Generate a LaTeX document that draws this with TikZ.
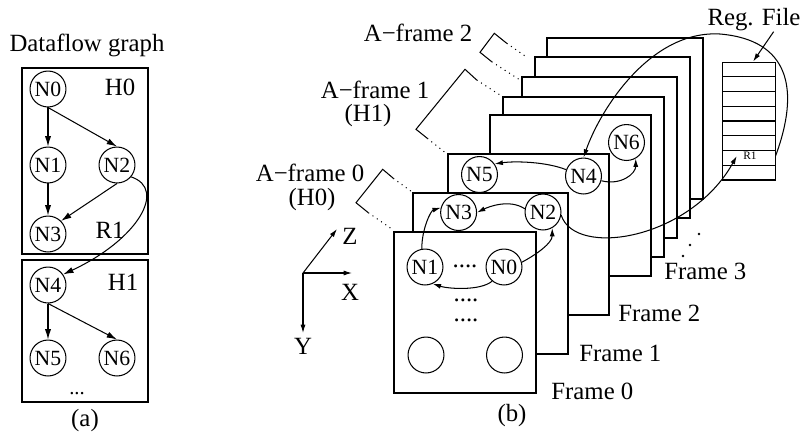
\documentclass[tikz,border=0pt]{standalone}
\usepackage{fontspec}
\setmainfont{Liberation Serif}
\usetikzlibrary{arrows.meta}

\begin{document}
\begin{tikzpicture}[x=0.484pt,y=-0.484pt,
  nd/.style={circle,draw,line width=.5pt,minimum size=17.4pt,inner sep=0pt,font=\fontsize{10.5}{11}\selectfont},
  lbl/.style={font=\fontsize{12}{13}\selectfont,inner sep=0pt},
  frm/.style={draw,fill=white,line width=.5pt},
  arr/.style={line width=.5pt,-{Latex[length=5pt,width=3pt]}},
  sarr/.style={line width=.5pt,-{Latex[length=4pt,width=2.4pt]}}]
\useasboundingbox (0,0) rectangle (801,434);

% (a) the dataflow graph
\node[lbl] (title) at (87,45) {Dataflow graph};
\draw[line width=.6pt] (22,68) rectangle (148,254);
\draw[line width=.6pt] (22,260) rectangle (148,402);
\node[lbl] (h0) at (120,87) {H0};
\node[lbl] (h1) at (123,282) {H1};
\node[lbl] (rr1) at (110,230) {R1};
\node[nd] (g0) at (48,89) {N0};
\node[nd] (g1) at (48,165) {N1};
\node[nd] (g2) at (117,165) {N2};
\node[nd] (g3) at (48,234) {N3};
\node[nd] (g4) at (48,285) {N4};
\node[nd] (g5) at (48,358) {N5};
\node[nd] (g6) at (117,358) {N6};
\node[font=\fontsize{10}{11}\selectfont] (gdots) at (77,394) {...};
\node[lbl] (capa) at (85,421) {(a)};
\draw[arr] (g0) -- (g1);
\draw[arr] (g0.south) -- (g2.north);
\draw[arr] (g1) -- (g3);
\draw[arr] (g2.south) -- (g3.45);
\draw[arr] (g2.-40) .. controls +(36,12) and +(75,-35) .. (g4.35);
\draw[arr] (g4) -- (g5);
\draw[arr] (g4.south) -- (g6.north);

% (b) the frames, back to front
\foreach \xa/\ya/\xb/\yb in {547/38/703/199,535/57/690/218,522/77/677/238,503/97/664/257,
    490/115/651/276,448/154/609/315,413/193/568/354,394/232/536/393}
  \draw[frm] (\xa,\ya) rectangle (\xb,\yb);
\node[lbl,anchor=west] (fl0) at (551,391) {Frame 0};
\node[lbl,anchor=west] (fl1) at (579,353) {Frame 1};
\node[lbl,anchor=west] (fl2) at (618,313) {Frame 2};
\node[lbl,anchor=west] (fl3) at (664,271) {Frame 3};
\foreach \x/\y in {683/256,690/245,699/234}
  \fill (\x,\y) circle (0.7pt);
\node[lbl] (capb) at (512,416) {(b)};

% A-frames
\node[lbl] (af2) at (418,33) {A−frame 2};
\node[lbl] (af1) at (375,90) {A−frame 1};
\node[lbl] (af1h) at (368,116) {(H1)};
\node[lbl] (af0) at (310,173) {A−frame 0};
\node[lbl] (af0h) at (312,200) {(H0)};
\draw[line width=.5pt] (506.7,43.3) -- (494.3,33.3) -- (480,52.3) -- (491.7,61.7);
\draw[line width=.5pt,dotted] (506.7,43.3) -- (527,57.3) (491.7,61.7) -- (520,80);
\draw[line width=.5pt] (476.7,80) -- (465,69.3) -- (416,129.3) -- (427.3,138.3);
\draw[line width=.5pt,dotted] (476.7,80) -- (500,95) (427.3,138.3) -- (447,154);
\draw[line width=.5pt] (393.3,178.3) -- (382.7,169.3) -- (356,202.7) -- (368.3,212.7);
\draw[line width=.5pt,dotted] (393.3,178.3) -- (411.7,191.7) (368.3,212.7) -- (393.3,230);

% axes
\coordinate (o) at (303,273);
\coordinate (xe) at (352,273);
\coordinate (ye) at (303,333);
\coordinate (ze) at (337,229);
\draw[sarr] (o) -- (xe);
\draw[sarr] (o) -- (ye);
\draw[sarr] (o) -- (ze);
\node[lbl] (lx) at (350,292) {X};
\node[lbl] (ly) at (303,346) {Y};
\node[lbl] (lz) at (350,236) {Z};

% nodes on the frames
\node[nd] (b0) at (504,267) {N0};
\node[nd] (b1) at (425,267) {N1};
\node[nd] (b2) at (543,212) {N2};
\node[nd] (b3) at (458.6,212.5) {N3};
\node[nd] (b4) at (583.5,176) {N4};
\node[nd] (b5) at (479.5,174.5) {N5};
\node[nd] (b6) at (626.5,142.5) {N6};
\node[nd] (e0) at (426,355) {};
\node[nd] (e1) at (504.5,355) {};
\node[lbl] (d0) at (465,266) {....};
\node[lbl,align=center,font=\fontsize{12}{9.7}\selectfont] (d1) at (466,310) {....\\....};

% register file
\node[lbl] (regtxt) at (754,20) {Reg. File};
\node[draw,line width=.5pt,minimum width=25.2pt,minimum height=57.1pt,inner sep=0pt] (regfile) at (749,121) {};
\foreach \k in {1,...,7}
  \draw[line width=.5pt] (723,{62+\k*14.75}) -- (775,{62+\k*14.75});
\node[font=\fontsize{5.5}{6}\selectfont,inner sep=3pt] (r1) at (750,156) {R1};
\draw[sarr] ([xshift=9.5pt]regtxt.south) -- ([xshift=2pt]regfile.north);

% data movement
\draw[sarr] (b0.-130) .. controls +(-12,10) and +(15,5) .. (b1.-65);
\draw[sarr] (b0.15) .. controls +(15,-8) and +(0,15) .. (b2.-60);
\draw[sarr] (b1.100) .. controls +(0,-20) and +(-10,3) .. (b3.165);
\draw[sarr] (b2.170) .. controls +(-15,-10) and +(12,-6) .. (b3.east);
\draw[sarr] (b4.160) .. controls +(-20,-8) and +(20,-3) .. (b5.35);
\draw[sarr] (b4.-15) .. controls +(20,5) and +(0,15) .. (b6.-60);
\draw[sarr] (b2.-10) .. controls (575,258) and (690,240) .. (r1.west);
\draw[sarr] (r1 -| regfile.east) .. controls (800,90) and (790,40) .. (720,34)
  .. controls (650,30) and (600,110) .. (b4.north);
\end{tikzpicture}
\end{document}
